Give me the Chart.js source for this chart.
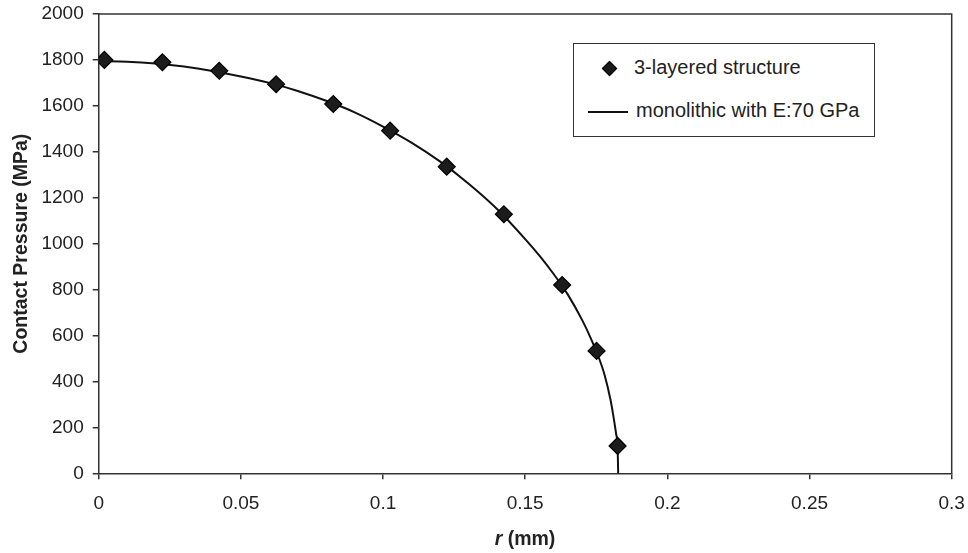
<!DOCTYPE html>
<html>
<head>
<meta charset="utf-8">
<script src="https://cdn.jsdelivr.net/npm/chart.js@4/dist/chart.umd.min.js"></script>
<style>
  body { margin: 0; background: #fff; }
  #wrap { position: relative; width: 968px; height: 553px; }
  #legend {
    position: absolute; left: 573px; top: 43px; width: 300px; height: 92px;
    border: 1.5px solid #333; background: #fff;
    font-family: "Liberation Sans", Arial, sans-serif; font-size: 20px; color: #222;
  }
  #legend .row { position: absolute; left: 0; white-space: nowrap; }
  #legend .dia {
    position: absolute; width: 9px; height: 9px; background: #1a1a1a; border: 1px solid #000;
    transform: rotate(45deg);
  }
  #legend .ln { position: absolute; height: 2px; background: #111; }
  #xtitle {
    position: absolute; left: 0; width: 1050px; top: 527px; text-align: center;
    font-family: "Liberation Sans", Arial, sans-serif; font-size: 19.5px; font-weight: bold; color: #222;
  }
</style>
</head>
<body>
<div id="wrap">
  <canvas id="chart" width="968" height="553"></canvas>
  <div id="legend">
    <span class="dia" style="left:30px; top:19px;"></span>
    <span class="row" style="left:60px; top:12px;">3-layered structure</span>
    <span class="ln" style="left:14px; width:40px; top:67px;"></span>
    <span class="row" style="left:62px; top:55px;">monolithic with E:70 GPa</span>
  </div>
  <div id="xtitle"><i>r</i> (mm)</div>
</div>
<script>
// 3-layered structure (markers)
const layeredR = [0.002, 0.0224, 0.0424, 0.0624, 0.0825, 0.1025, 0.1224, 0.1425, 0.163, 0.1751, 0.1825];
const layeredP = [1800, 1790, 1753, 1694, 1608, 1492, 1335, 1128, 820, 533, 119];

// monolithic with E:70 GPa (line)
const monoR = [0, 0.01, 0.02, 0.03, 0.04, 0.05, 0.06, 0.07, 0.08, 0.09, 0.10, 0.11, 0.12, 0.13, 0.14,
               0.15, 0.155, 0.16, 0.165, 0.17, 0.173, 0.176, 0.178, 0.18, 0.181, 0.182, 0.1825, 0.1827];
const monoP = [1795, 1792, 1784, 1771, 1752, 1728, 1700, 1665, 1622, 1572, 1510, 1440, 1358, 1262, 1152,
               1020, 948, 868, 778, 668, 590, 500, 425, 320, 250, 170, 115, 0];

const xTicks = [0, 0.05, 0.1, 0.15, 0.2, 0.25, 0.3];
const yTicks = [0, 200, 400, 600, 800, 1000, 1200, 1400, 1600, 1800, 2000];

const toPts = (xs, ys) => xs.map((x, i) => ({ x: x, y: ys[i] }));

// top and right edges of the plot frame
const frame = {
  id: 'frame',
  afterDraw(chart) {
    const a = chart.chartArea, ctx = chart.ctx;
    ctx.save();
    ctx.strokeStyle = '#333';
    ctx.lineWidth = 1.5;
    ctx.beginPath();
    ctx.moveTo(a.left, a.top);
    ctx.lineTo(a.right, a.top);
    ctx.lineTo(a.right, a.bottom);
    ctx.stroke();
    ctx.restore();
  }
};

const font = { family: '"Liberation Sans", Arial, sans-serif', size: 19 };

new Chart(document.getElementById('chart'), {
  type: 'scatter',
  data: {
    datasets: [
      {
        label: '3-layered structure',
        data: toPts(layeredR, layeredP),
        pointStyle: 'rectRot',
        pointRadius: 8.5,
        backgroundColor: '#1c1c1c',
        borderColor: '#000',
        borderWidth: 1.2,
        showLine: false,
        order: 0
      },
      {
        label: 'monolithic with E:70 GPa',
        data: toPts(monoR, monoP),
        showLine: true,
        pointRadius: 0,
        borderColor: '#111',
        borderWidth: 2,
        cubicInterpolationMode: 'monotone',
        order: 1
      }
    ]
  },
  plugins: [frame],
  options: {
    responsive: false,
    animation: false,
    layout: { padding: { top: 14, right: 16.3, left: 0, bottom: 0 } },
    plugins: { legend: { display: false }, tooltip: { enabled: false } },
    scales: {
      x: {
        type: 'linear', min: 0, max: 0.3,
        afterBuildTicks: s => { s.ticks = xTicks.map(v => ({ value: v })); },
        afterFit: s => { s.height = 79.7; s.paddingLeft = 0; s.paddingRight = 0; },
        grid: { drawOnChartArea: false, tickLength: 6, color: '#333', lineWidth: 1.5 },
        border: { color: '#333', width: 1.5 },
        ticks: { font: font, color: '#222', padding: 13, maxRotation: 0,
                 callback: v => String(parseFloat(v.toFixed(2))) }
      },
      y: {
        min: 0, max: 2000,
        afterBuildTicks: s => { s.ticks = yTicks.map(v => ({ value: v })); },
        afterFit: s => { s.width = 98.7; s.paddingTop = 0; s.paddingBottom = 0; },
        grid: { drawOnChartArea: false, tickLength: 6, color: '#333', lineWidth: 1.5 },
        border: { color: '#333', width: 1.5 },
        ticks: { font: font, color: '#222', padding: 9, callback: v => String(v) },
        title: { display: true, text: 'Contact Pressure (MPa)', color: '#222',
                 font: { family: font.family, size: 19.5, weight: 'bold' }, padding: { top: 10, bottom: 0 } }
      }
    }
  }
});
</script>
</body>
</html>
